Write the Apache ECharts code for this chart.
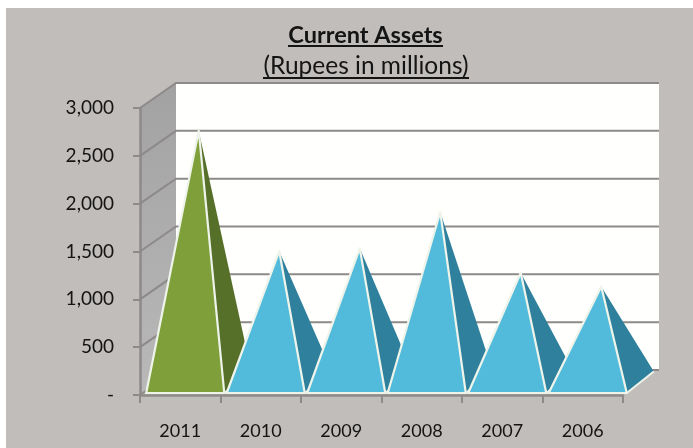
<!DOCTYPE html>
<html>
<head>
<meta charset="utf-8">
<style>html,body{margin:0;padding:0;background:#fff}#chart{width:693px;height:448px}</style>
<script src="https://cdn.jsdelivr.net/npm/echarts@6/dist/echarts.min.js"></script>
</head>
<body>
<div id="chart"></div>
<script>
// Current assets by year, in millions of rupees
const years = ['2011', '2010', '2009', '2008', '2007', '2006'];
const currentAssets = [2630, 1370, 1400, 1780, 1145, 1000];
const yTicks = [0, 500, 1000, 1500, 2000, 2500, 3000];
const yTickLabels = ['-', '500', '1,000', '1,500', '2,000', '2,500', '3,000'];
const frontColors = ['#7f9f3b', '#52bbdb', '#52bbdb', '#52bbdb', '#52bbdb', '#52bbdb'];
const sideColors = ['#566f29', '#2f809d', '#2f809d', '#2f809d', '#2f809d', '#2f809d'];

// Oblique projection used for the fake 3D box and pyramids
const WALL_DX = 36, WALL_DY = 25;
const PYR_DX = 27, PYR_DY = 21.5, PYR_LIFT = 2, PYR_SHIFT = 5, PYR_WIDTH = 0.97;
const EDGE = '#eef4ea';

function renderFrame(params, api) {
  const g = params.coordSys;
  const children = [];
  const left = g.x, right = g.x + g.width;
  const top = api.coord([0, 3000])[1], base = api.coord([0, 0])[1];
  children.push({
    type: 'polygon',
    shape: { points: [[left, top], [left + WALL_DX, top - WALL_DY], [left + WALL_DX, base - WALL_DY], [left, base]] },
    style: { fill: { type: 'linear', x: 0, y: 0, x2: 0, y2: 1, colorStops: [{ offset: 0, color: '#a2a2a2' }, { offset: 1, color: '#b9b9b9' }] } }
  });
  children.push({
    type: 'rect',
    shape: { x: left + WALL_DX, y: top - WALL_DY, width: right - left, height: base - top },
    style: { fill: '#fffffd' }
  });
  yTicks.forEach(function (v) {
    const y = api.coord([0, v])[1];
    children.push({
      type: 'polyline',
      shape: { points: [[left, y], [left + WALL_DX, y - WALL_DY], [right + WALL_DX, y - WALL_DY]] },
      style: { fill: null, stroke: '#8d8a89', lineWidth: 2 }
    });
  });
  return { type: 'group', children: children };
}

function renderPyramid(params, api) {
  const i = params.dataIndex;
  const centre = api.coord([api.value(0), 0]);
  const tip = api.coord([api.value(0), api.value(1)]);
  const half = api.size([1, 0])[0] * PYR_WIDTH / 2;
  const cx = centre[0] + PYR_SHIFT, y0 = centre[1] - PYR_LIFT;
  const fl = [cx - half, y0], fr = [cx + half, y0], br = [cx + half + PYR_DX, y0 - PYR_DY];
  const apex = [cx + PYR_DX / 2, tip[1] - PYR_LIFT - PYR_DY / 2];
  return {
    type: 'group',
    children: [
      { type: 'polygon', shape: { points: [fr, br, apex] }, style: { fill: sideColors[i] } },
      { type: 'line', shape: { x1: fr[0], y1: fr[1], x2: br[0], y2: br[1] }, style: { stroke: EDGE, lineWidth: 2 } },
      { type: 'polygon', shape: { points: [fl, fr, apex] }, style: { fill: frontColors[i], stroke: EDGE, lineWidth: 2.2, lineJoin: 'round' } }
    ]
  };
}

const chart = echarts.init(document.getElementById('chart'), null, { renderer: 'canvas' });
const FONT = 'Lato, "Open Sans", sans-serif';
chart.setOption({
  animation: false,
  backgroundColor: '#ffffff',
  textStyle: { fontFamily: FONT },
  title: [
    { text: 'Current Assets', left: 360.5, top: 18, textAlign: 'center',
      textStyle: { fontFamily: FONT, fontSize: 23.5, fontWeight: 'bold', color: '#141414' } },
    { text: '(Rupees in millions)', left: 361, top: 49, textAlign: 'center',
      textStyle: { fontFamily: FONT, fontSize: 24.5, fontWeight: 'normal', color: '#141414' } }
  ],
  graphic: [
    { type: 'rect', z: -10, silent: true, shape: { x: 6, y: 8, width: 687, height: 440 }, style: { fill: '#c1bdba' } },
    { type: 'line', z: 10, silent: true, shape: { x1: 288, y1: 46, x2: 443, y2: 46 }, style: { stroke: '#141414', lineWidth: 2 } },
    { type: 'line', z: 10, silent: true, shape: { x1: 263, y1: 78, x2: 469, y2: 78 }, style: { stroke: '#141414', lineWidth: 2 } }
  ],
  grid: { left: 140, top: 108, width: 483, height: 287, containLabel: false },
  xAxis: {
    type: 'category',
    data: years,
    z: 3,
    axisLine: { lineStyle: { color: '#8d8a89', width: 2.5 } },
    axisTick: { show: true, length: 8, alignWithLabel: false, lineStyle: { color: '#8d8a89', width: 2 } },
    axisLabel: { margin: 27, fontSize: 18, color: '#141414', fontFamily: FONT, interval: 0 },
    splitLine: { show: false }
  },
  yAxis: {
    type: 'value',
    min: 0,
    max: 3000,
    interval: 500,
    z: 3,
    axisLine: { show: true, lineStyle: { color: '#8d8a89', width: 2.5 } },
    axisTick: { show: true, length: 7, lineStyle: { color: '#8d8a89', width: 2 } },
    axisLabel: {
      margin: 26, fontSize: 19, color: '#141414', fontFamily: FONT, padding: [4, 0, 0, 0],
      formatter: function (v) { return yTickLabels[yTicks.indexOf(v)]; }
    },
    splitLine: { show: false }
  },
  series: [
    { type: 'custom', z: 1, silent: true, renderItem: renderFrame, data: [[0, 0]], clip: false,
      encode: { x: 0, y: 1 } },
    { type: 'custom', z: 2, silent: true, renderItem: renderPyramid, clip: false,
      data: currentAssets.map(function (v, i) { return [i, v]; }), encode: { x: 0, y: 1 } }
  ]
});
</script>
</body>
</html>
